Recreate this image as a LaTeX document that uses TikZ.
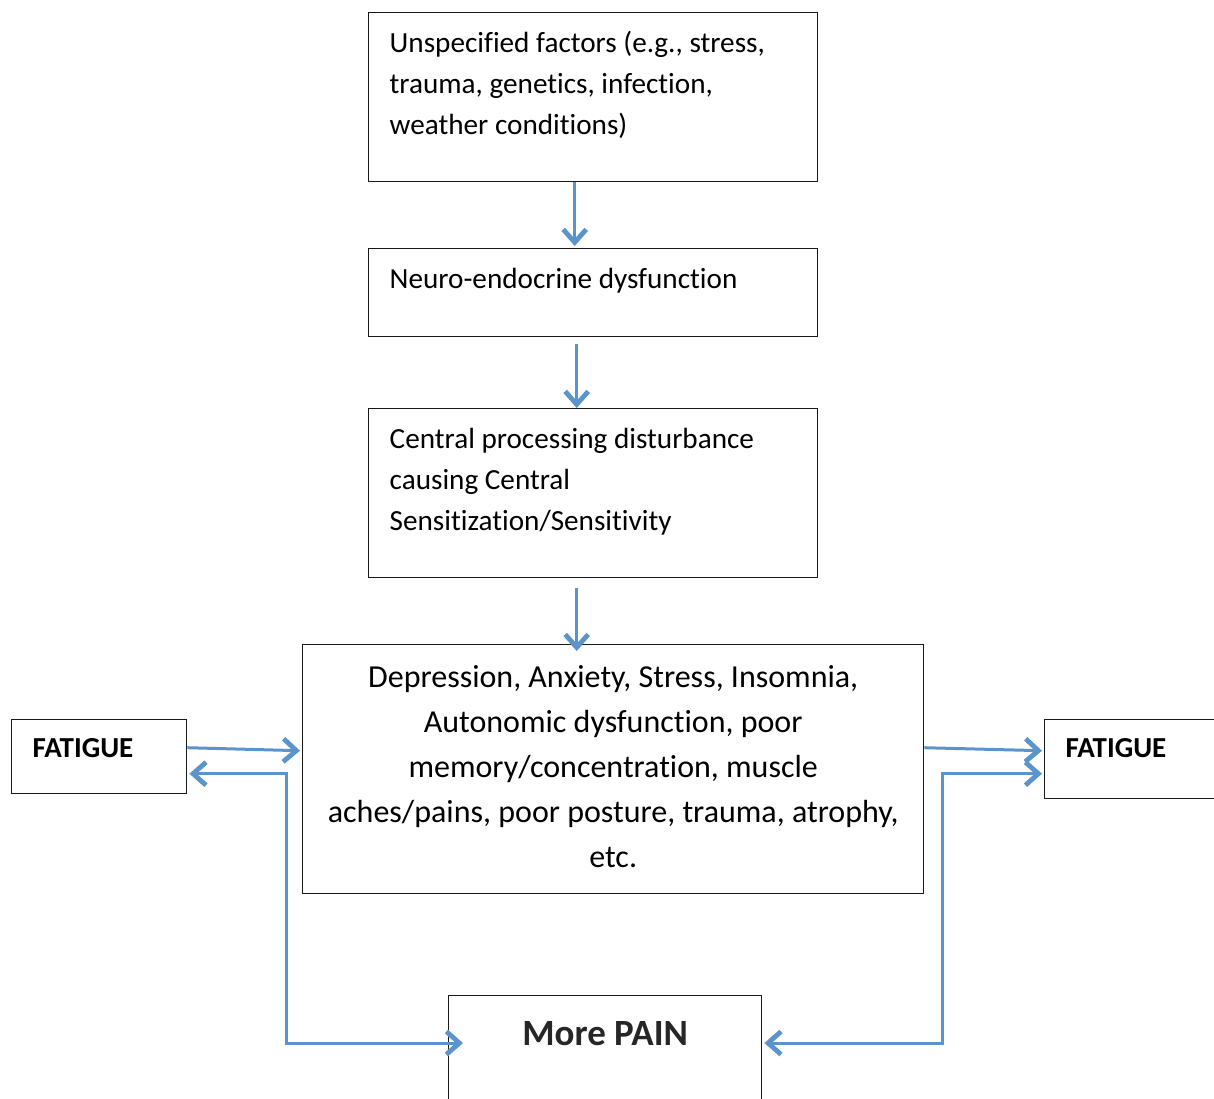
\documentclass[tikz,border=0pt]{standalone}
\usepackage{fontspec}
\setmainfont{Carlito}[Ligatures=NoCommon]
\usepackage{xcolor}
\usetikzlibrary{arrows.meta}

\definecolor{flowblue}{HTML}{5B93CD}
\newcommand{\stagetext}[3]{\parbox[c][#1][t]{#2}{\raggedright\fontsize{14.6}{20.5}\selectfont\rule{0pt}{20pt}#3}}

\tikzset{
  barb/.tip={Straight Barb[length=6.5pt,width=11.5pt,line width=2.4pt]},
  stage/.style={draw=black!90, line width=0.7pt, anchor=north west, inner xsep=10.5pt, inner ysep=0pt},
  flow/.style={draw=flowblue, line width=1.5pt, -barb},
  twoway/.style={flow, barb-barb}
}

\begin{document}
\begin{tikzpicture}[x=0.5pt,y=-0.5pt]
    \useasboundingbox (0,0) rectangle (1214,1098);

    % 方框
    \node[stage] (b1) at (368,12) {\stagetext{84.5pt}{203.5pt}{Unspecified factors (e.g., stress,\\ trauma, genetics, infection,\\ weather conditions)}};
    \node[stage] (b2) at (368,248) {\stagetext{44pt}{203.5pt}{Neuro-endocrine dysfunction}};
    \node[stage] (b3) at (368,408) {\stagetext{84.5pt}{203.5pt}{Central processing disturbance\\ causing Central\\ Sensitization/Sensitivity}};
    \node[stage] (b4) at (302,644) {\parbox[c][124.5pt][c]{289.5pt}{\centering\fontsize{16}{22.5}\selectfont\vspace*{-3pt}
        Depression, Anxiety, Stress, Insomnia,\\ Autonomic dysfunction, poor\\ memory/concentration, muscle\\ aches/pains, poor posture, trauma, atrophy,\\ etc.}};
    \node[stage] (fatL) at (11,719) {\parbox[c][37pt][t]{66.5pt}{\fontsize{14.5}{17}\selectfont\rule{0pt}{19pt}\textbf{FATIGUE}}};
    \node[stage] (fatR) at (1044,719) {\parbox[c][39.5pt][t]{66.5pt}{\fontsize{14.5}{17}\selectfont\rule{0pt}{19pt}\textbf{FATIGUE}}};
    \node[stage] (pain) at (448,995) {\parbox[c][60pt][t]{135.5pt}{\centering\fontsize{18.5}{22}\selectfont\rule{0pt}{25pt}\textcolor{black!85}{\textbf{More PAIN}}}};

    % 箭头
    \draw[flow] ([xshift=-9.25pt]b1.south) -- ([xshift=-9.25pt,yshift=1pt]b2.north);
    \draw[flow] ([xshift=-8.25pt,yshift=-3.5pt]b2.south) -- ([xshift=-8.25pt]b3.north);
    \draw[flow] ([xshift=-8.25pt,yshift=-5pt]b3.south) -- ([xshift=-18.25pt,yshift=-3.5pt]b4.north);

    % 左右两侧
    \draw[flow] ([yshift=4.5pt]fatL.east) -- ([xshift=-1pt,yshift=9.25pt]b4.west);
    \draw[twoway] ([xshift=1pt,yshift=-8.5pt]fatL.east) -- ++(97,0) |- ([xshift=7.5pt,yshift=-24pt]pain.north west);
    \draw[flow] ([yshift=10.75pt]b4.east) -- ([xshift=-1pt,yshift=4.25pt]fatR.west);
    \draw[twoway] ([xshift=-1pt,yshift=-7.25pt]fatR.west) -- ++(-100,0) |- ([xshift=1pt,yshift=-24pt]pain.north east);

\end{tikzpicture}
\end{document}
